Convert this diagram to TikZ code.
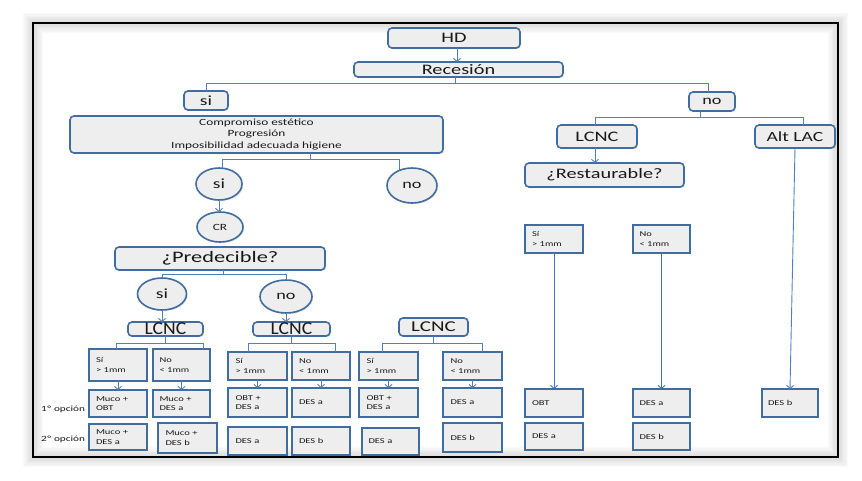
\documentclass[tikz,border=0pt]{standalone}
\usepackage{graphicx}
\usepackage{fontspec}
\setmainfont{Carlito}[FakeStretch=1.4]
\usetikzlibrary{arrows.meta,shapes.geometric,shadows}
\definecolor{bd}{RGB}{65,108,160}
\definecolor{ln}{RGB}{79,129,189}
\definecolor{ln2}{RGB}{68,114,196}
\definecolor{ln3}{RGB}{70,120,125}
\definecolor{fl}{RGB}{238,238,238}
\definecolor{tx}{RGB}{25,25,25}
\newcommand\myfs[2]{\fontsize{#1}{#2}\selectfont}
\tikzset{
  shd/.style={drop shadow={opacity=0.2, shadow xshift=1.2pt, shadow yshift=-1.2pt}},
  rbox/.style={draw=bd, line width=1.6pt, rounded corners=4pt, fill=fl, inner sep=0pt, outer sep=0pt, text=tx, align=center, shd},
  ebox/.style={ellipse, draw=bd, line width=1.6pt, fill=fl, inner sep=0pt, outer sep=0pt, text=tx, shd},
  sbox/.style={draw=bd, line width=1.9pt, fill=fl, inner sep=0pt, outer sep=0pt, text=tx, align=left,
    font=\myfs{7.5}{9.5}, minimum width=58, minimum height=28, text width=44, shd},
  conn/.style={draw=ln, line width=0.9pt},
  arr/.style={conn, -{Straight Barb[length=3pt,width=7pt]}},
  opt/.style={text=tx, font=\myfs{8}{9}, inner sep=0pt}
}
\begin{document}
\begin{tikzpicture}[x=1pt,y=-1pt]
\useasboundingbox (0,0) rectangle (862,480);
\fill[white] (0,0) rectangle (862,480);
\foreach \i in {1,...,8}
  \draw[gray, opacity=0.035, line width=\i*2.5pt] (33,23) rectangle (838,457);
\draw[black, line width=1.3pt] (33,23) rectangle (838,457);

% top
\node[rbox, minimum width=132, minimum height=20, font=\myfs{14.5}{16}] (hd) at (454,38) {HD};
\node[rbox, minimum width=209, minimum height=15, font=\myfs{14.5}{16}] (rec) at (458.5,69.5) {Recesión};
\node[rbox, minimum width=44, minimum height=19, font=\myfs{14}{16}] (si1) at (206,100.5) {si};
\node[rbox, minimum width=46, minimum height=19, font=\myfs{13}{15}] (no1) at (712,101.5) {no};
\node[rbox, minimum width=373, minimum height=37, font=\myfs{9.5}{11.5}] (big) at (256.5,134.5)
  {Compromiso estético\\Progresión\\Imposibilidad adecuada higiene};
\node[ebox, minimum width=46, minimum height=32, font=\myfs{14}{16}] (siE) at (219,184) {si};
\node[ebox, minimum width=50, minimum height=35, font=\myfs{13}{15}] (noE) at (412,185.5) {no};
\node[ebox, minimum width=46, minimum height=30, font=\myfs{9.5}{11}] (cr) at (220,227) {CR};
\node[rbox, minimum width=210, minimum height=23, font=\myfs{16}{18}] (pred) at (220,258.5) {¿Predecible?};
\node[ebox, minimum width=49, minimum height=32, font=\myfs{14}{16}] (si2) at (162,294) {si};
\node[ebox, minimum width=52, minimum height=33, font=\myfs{13}{15}] (no2) at (286,296.5) {no};
\node[rbox, minimum width=75, minimum height=14, font=\myfs{14}{16}] (l1) at (165.5,329) {\scalebox{1}[1.3]{LCNC}};
\node[rbox, minimum width=77, minimum height=14, font=\myfs{14}{16}] (l2) at (291.5,329) {\scalebox{1}[1.3]{LCNC}};
\node[rbox, minimum width=69, minimum height=18, font=\myfs{15}{17}] (l3) at (433.5,327) {LCNC};

% right branch
\node[rbox, minimum width=80, minimum height=23, font=\myfs{14.5}{16}] (lr) at (597,136.5) {LCNC};
\node[rbox, minimum width=80, minimum height=23, font=\myfs{14}{16}] (alt) at (795,136.5) {Alt LAC};
\node[rbox, minimum width=159, minimum height=24, font=\myfs{14.5}{16}] (rest) at (604.5,175) {¿Restaurable?};

% small boxes, group 1
\node[sbox, minimum height=32] (a1) at (118,365) {Sí\\> 1mm};
\node[sbox, minimum width=57, minimum height=32] (b1) at (181.5,365) {No\\< 1mm};
\node[sbox, minimum height=27] (a1o1) at (118,403.5) {Muco +\\OBT};
\node[sbox, minimum width=57, minimum height=27] (b1o1) at (181.5,403.5) {Muco +\\DES a};
\node[sbox, minimum height=26] (a1o2) at (118,437) {Muco +\\DES a};
\node[sbox, minimum width=59, minimum height=30] (b1o2) at (187.5,438) {Muco +\\DES b};
% group 2
\node[sbox, minimum width=59] (a2) at (257.5,366) {Sí\\> 1mm};
\node[sbox] (b2) at (321,366) {No\\< 1mm};
\node[sbox, minimum width=59, minimum height=29] (a2o1) at (257.5,402.5) {OBT +\\DES a};
\node[sbox, minimum height=29] (b2o1) at (321,402.5) {DES a};
\node[sbox, minimum width=59] (a2o2) at (257.5,441) {DES a};
\node[sbox] (b2o2) at (321,441) {DES b};
% group 3
\node[sbox, minimum width=59] (a3) at (388.5,366) {Sí\\> 1mm};
\node[sbox, minimum width=59] (b3) at (472.5,366) {No\\< 1mm};
\node[sbox, minimum width=59, minimum height=29] (a3o1) at (388.5,402.5) {OBT +\\DES a};
\node[sbox, minimum width=59, minimum height=29] (b3o1) at (472.5,402.5) {DES a};
\node[sbox, minimum width=57, minimum height=27] (a3o2) at (390.5,441.5) {DES a};
\node[sbox, minimum width=59, minimum height=29] (b3o2) at (472.5,437.5) {DES b};
% group 4
\node[sbox] (a4) at (554,239) {Sí\\> 1mm};
\node[sbox, minimum width=57] (b4) at (661.5,239) {No\\< 1mm};
\node[sbox] (a4o1) at (554,403) {OBT};
\node[sbox, minimum width=57] (b4o1) at (661.5,403) {DES a};
\node[sbox, minimum height=27] (a4o2) at (554,436.5) {DES a};
\node[sbox, minimum width=57, minimum height=27] (b4o2) at (661.5,436.5) {DES b};
\node[sbox, minimum width=56] (c4) at (790,403) {DES b};

\node[opt] (op1) at (63,409) {1º opción};
\node[opt] (op2) at (63,439) {2º opción};

% connectors
\draw[arr] ([xshift=3pt]hd.south) -- ([xshift=3pt]hd.south |- rec.north);
\draw[conn] ([xshift=-3pt]rec.south) -- ++(0,6) -| (si1.north);
\draw[conn] ([xshift=-3pt]rec.south) -- ++(0,6) -| ([xshift=-4pt]no1.north);
\draw[conn] ([xshift=53.5pt]big.south) -- ++(0,6) -| ([xshift=3pt]siE.north);
\draw[conn] ([xshift=53.5pt]big.south) -- ++(0,6) -| (noE.131);
\draw[arr] (siE.south) -- (siE.south |- cr.north);
\draw[conn] ([xshift=3pt]pred.south) -- ++(0,4) -| (si2.north);
\draw[conn] ([xshift=3pt]pred.south) -- ++(0,4) -| (no2.north);
\draw[arr] (si2.south) -- (si2.south |- l1.north);
\draw[arr] (no2.south) -- (no2.south |- l2.north);
\draw[conn] (l1.south) -- ++(0,7) -| ([xshift=-2pt]a1.north);
\draw[conn] (l1.south) -- ++(0,7) -| ([xshift=21.5pt]b1.north);
\draw[conn] (l2.south) -- ++(0,7) -| ([xshift=-9.5pt]a2.north);
\draw[conn] (l2.south) -- ++(0,7) -| ([xshift=14pt]b2.north);
\draw[conn] (l3.south) -- ++(0,7) -| ([xshift=-6.5pt]a3.north);
\draw[conn] (l3.south) -- ++(0,7) -| ([xshift=9.5pt]b3.north);
\draw[arr] (a1.south) -- (a1o1.north);
\draw[arr] (b1.south) -- (b1o1.north);
\draw[arr] (a2.south) -- (a2o1.north);
\draw[arr] (b2.south) -- (b2o1.north);
\draw[arr] (a3.south) -- (a3o1.north);
\draw[arr] (b3.south) -- (b3o1.north);
\draw[conn] ([xshift=-12pt]no1.south) -- ++(0,6) -| ([xshift=-2pt]lr.north);
\draw[conn] ([xshift=-12pt]no1.south) -- ++(0,6) -| ([xshift=8pt]alt.north);
\draw[arr] ([xshift=-2pt]lr.south) -- ([xshift=-2pt]lr.south |- rest.north);
\draw[arr] (alt.south) -- (c4.north);
\draw[arr, draw=ln2] (a4.south) -- (a4o1.north);
\draw[arr, draw=ln3] (b4.south) -- (b4o1.north);
\end{tikzpicture}
\end{document}
